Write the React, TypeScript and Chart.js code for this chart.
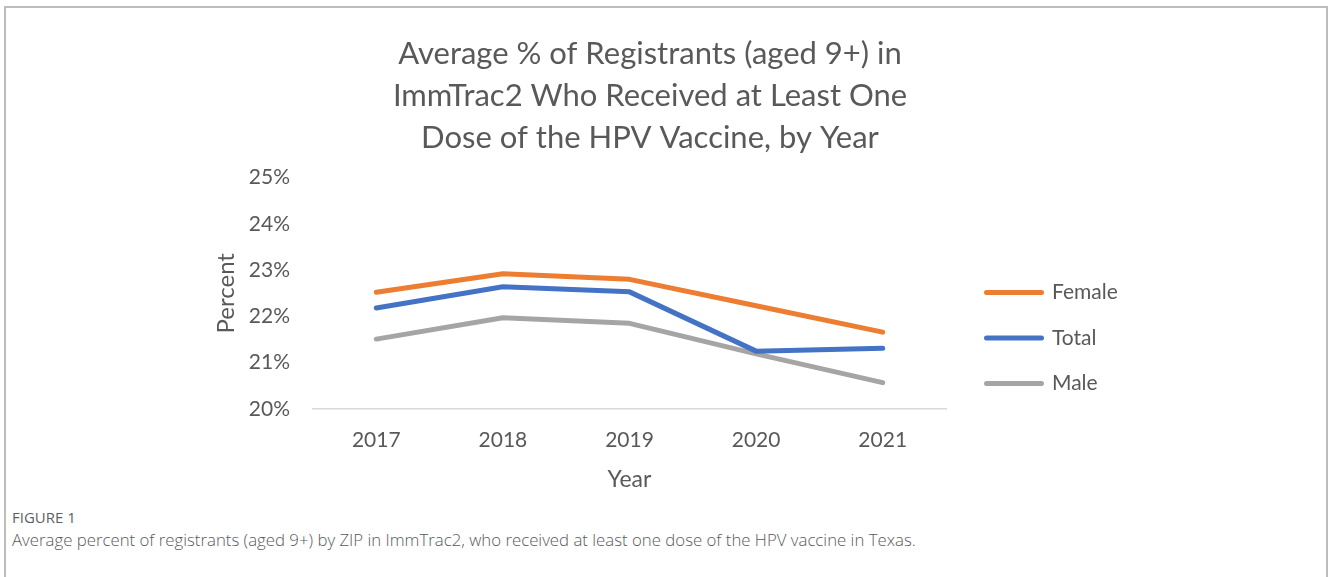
import React, { useEffect, useRef } from 'react';
import Chart from 'chart.js/auto';

const YEARS = ['2017', '2018', '2019', '2020', '2021'];
const FEMALE = [22.52, 22.92, 22.8, 22.23, 21.66];
const TOTAL = [22.18, 22.64, 22.53, 21.25, 21.31];
const MALE = [21.51, 21.97, 21.85, 21.19, 20.57];
const Y_MIN = 20;
const Y_MAX = 25;
const Y_STEP = 1;
const TITLE_LINES = [
  'Average % of Registrants (aged 9+) in',
  'ImmTrac2 Who Received at Least One',
  'Dose of the HPV Vaccine, by Year',
];
const SERIES_NAMES = ['Female', 'Total', 'Male'];
const COLORS = ['#ED7D31', '#4472C4', '#A5A5A5'];
const FIG_LABEL = 'FIGURE 1';
const CAPTION =
  'Average percent of registrants (aged 9+) by ZIP in ImmTrac2, who received at least one dose of the HPV vaccine in Texas.';

const FONT = 'Lato, "Open Sans", sans-serif';
const TEXT = '#595959';

export default function App() {
  const ref = useRef<HTMLCanvasElement | null>(null);

  useEffect(() => {
    if (!ref.current) return;
    const values = [FEMALE, TOTAL, MALE];
    const chart = new Chart(ref.current, {
      type: 'line',
      data: {
        labels: YEARS,
        datasets: SERIES_NAMES.map((name, i) => ({
          label: name,
          data: values[i],
          borderColor: COLORS[i],
          backgroundColor: COLORS[i],
          borderWidth: 5,
          borderCapStyle: 'round',
          borderJoinStyle: 'round',
          pointRadius: 0,
          tension: 0,
        })),
      },
      options: {
        responsive: false,
        animation: false,
        layout: { padding: { left: 0, right: 28, top: 0, bottom: 6.2 } },
        plugins: {
          tooltip: { enabled: false },
          title: {
            display: true,
            text: TITLE_LINES,
            color: TEXT,
            font: { family: FONT, size: 31, weight: 'normal', lineHeight: 1.355 },
            padding: { top: 32.5, bottom: 19 },
          },
          legend: {
            display: true,
            position: 'right',
            align: 'center',
            fullSize: true,
            title: {
              display: true,
              text: ' ',
              font: { size: 10, lineHeight: 1.2 },
              padding: { top: 170, bottom: 0 },
            },
            labels: {
              color: TEXT,
              font: { family: FONT, size: 21 },
              boxWidth: 55,
              boxHeight: 0,
              padding: 24.5,
            },
          },
        },
        scales: {
          x: {
            type: 'category',
            offset: true,
            grid: { display: false, drawTicks: false },
            border: { display: true, color: '#d9d9d9', width: 1.5 },
            ticks: {
              color: TEXT,
              font: { family: FONT, size: 21 },
              padding: 19,
              maxRotation: 0,
            },
            title: {
              display: true,
              text: 'Year',
              color: TEXT,
              font: { family: FONT, size: 23 },
              padding: { top: 13, bottom: 0 },
            },
            afterFit: (s: any) => {
              s.height = 84.8;
            },
          },
          y: {
            type: 'linear',
            position: 'left',
            min: Y_MIN,
            max: Y_MAX,
            grid: { display: false, drawTicks: false },
            border: { display: false },
            ticks: {
              stepSize: Y_STEP,
              color: TEXT,
              font: { family: FONT, size: 21 },
              padding: 23,
              callback: (v: any) => v + '%',
            },
            title: {
              display: true,
              text: 'Percent',
              color: TEXT,
              font: { family: FONT, size: 24 },
              padding: { top: 211.6, bottom: 0 },
            },
            afterFit: (s: any) => {
              s.width = 313;
            },
          },
          gapRight: {
            type: 'linear',
            position: 'right',
            weight: 0,
            display: true,
            grid: { display: false, drawTicks: false },
            border: { display: false },
            ticks: { display: false },
            afterFit: (s: any) => {
              s.width = 16;
            },
          },
          outerRight: {
            type: 'linear',
            position: 'right',
            weight: 2000,
            display: true,
            grid: { display: false, drawTicks: false },
            border: { display: false },
            ticks: { display: false },
            afterFit: (s: any) => {
              const lw = s.chart.legend ? s.chart.legend.width : 0;
              s.width = Math.max(0, 1300 - 946 - 16 - lw);
            },
          },
        },
      } as any,
    });
    return () => chart.destroy();
  }, []);

  return (
    <div
      style={{
        position: 'absolute',
        left: 0,
        top: 0,
        width: 1328,
        height: 577,
        overflow: 'hidden',
        background: '#fff',
      }}
    >
      <div
        style={{
          position: 'absolute',
          left: 4,
          top: 6,
          width: 1324,
          height: 600,
          boxSizing: 'border-box',
          border: '2px solid #bdbdbd',
        }}
      />
      <canvas
        ref={ref}
        width={1328}
        height={500}
        style={{ position: 'absolute', left: 0, top: 0, width: 1328, height: 500 }}
      />
      <div
        style={{
          position: 'absolute',
          left: 12,
          top: 507,
          fontFamily: '"Open Sans", sans-serif',
          fontSize: 15,
          lineHeight: '20px',
          color: '#5f5f5f',
          whiteSpace: 'nowrap',
        }}
      >
        {FIG_LABEL}
      </div>
      <div
        style={{
          position: 'absolute',
          left: 12,
          top: 529,
          fontFamily: '"Open Sans", sans-serif',
          fontSize: 16.8,
          fontWeight: 300,
          lineHeight: '22px',
          color: '#5a5a5a',
          whiteSpace: 'nowrap',
        }}
      >
        {CAPTION}
      </div>
    </div>
  );
}
